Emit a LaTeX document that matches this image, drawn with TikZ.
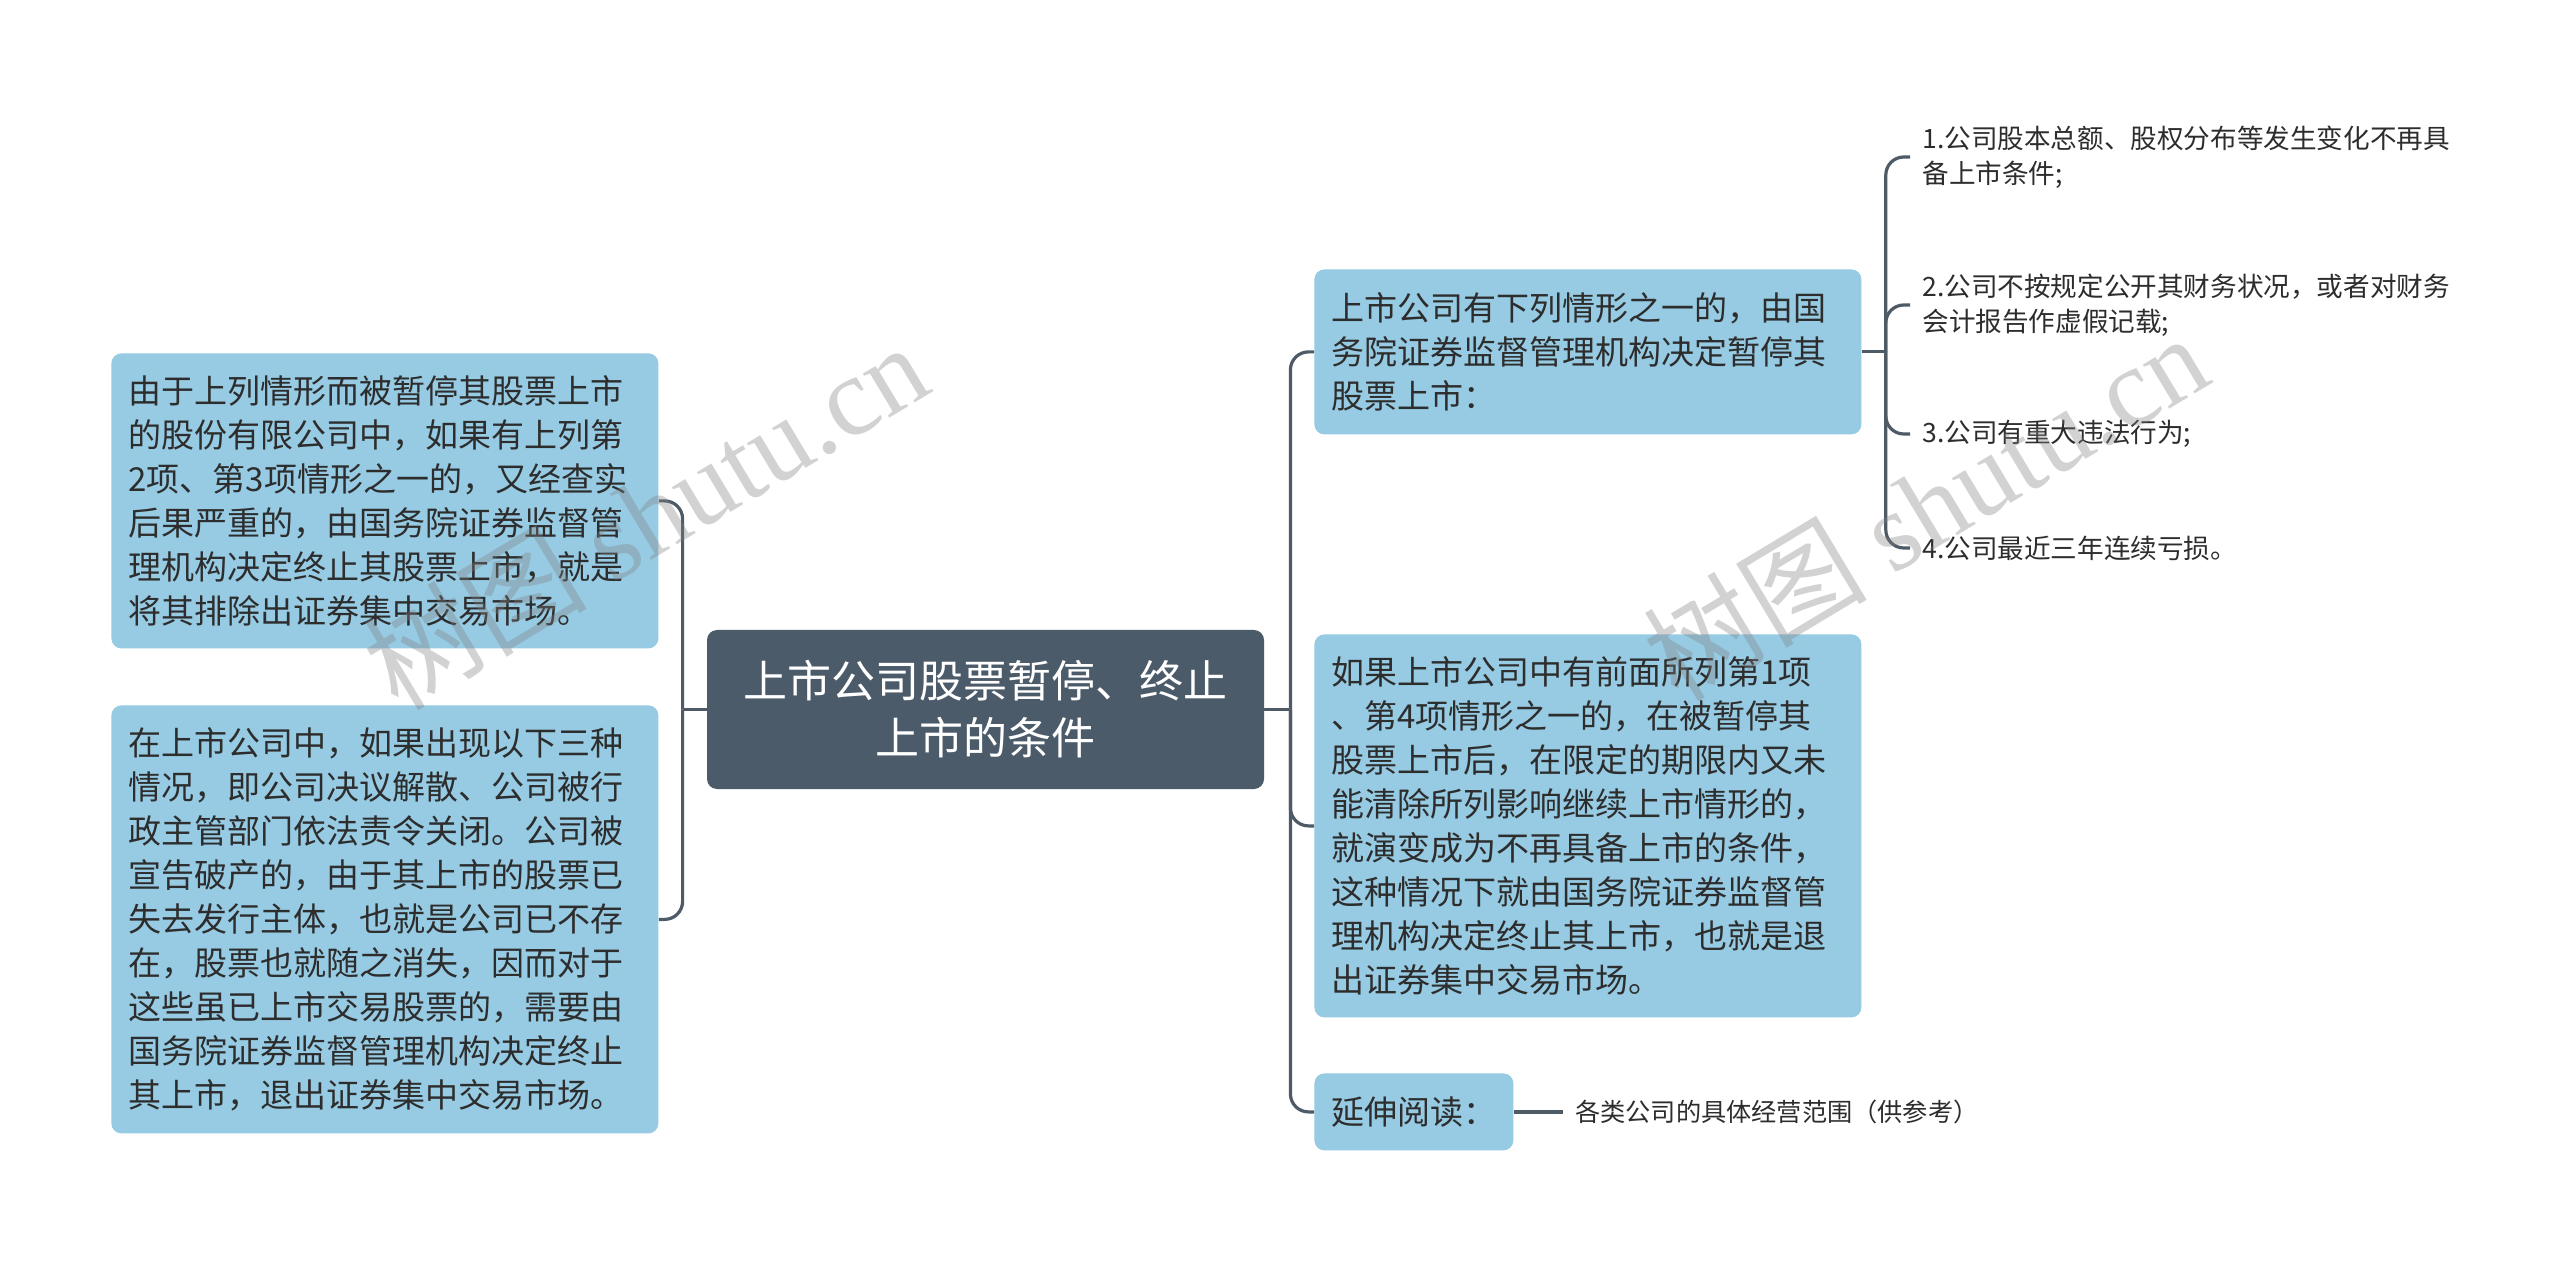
\documentclass[tikz,border=0pt]{standalone}
\usepackage{fontspec}
\setmainfont{Noto Sans CJK SC}
\newfontfamily\wmfont{Liberation Serif}
\usetikzlibrary{positioning}
\definecolor{rootc}{RGB}{76,91,106}
\definecolor{topicc}{RGB}{150,203,227}
\definecolor{linec}{RGB}{78,90,102}
\definecolor{textc}{RGB}{45,45,45}

\begin{document}
\begin{tikzpicture}[x=0.5pt,y=-0.5pt,
  link/.style={draw=linec,line width=1.6pt,rounded corners=9pt},
  root/.style={fill=rootc,rounded corners=5pt,text=white,align=center,minimum width=278.5pt,minimum height=79.5pt,font=\fontsize{22}{28.5}\selectfont},
  topic/.style={fill=topicc,rounded corners=5pt,text=textc,align=left,anchor=north west,text width=256.5pt,inner xsep=8.5pt,font=\fontsize{16.5}{22}\selectfont},
  leaf/.style={anchor=west,align=left,text=textc,inner xsep=6pt,font=\fontsize{13.3}{17.5}\selectfont},
  wmark/.style={text=gray,opacity=0.35,font=\fontsize{56}{56}\selectfont}]
\fill[white] (0,0) rectangle (2560,1261);
\useasboundingbox (0,0) rectangle (2560,1261);

\node[root] (root) at (985.5,709.5) {上市公司股票暂停、终止\\上市的条件};

\node[topic,minimum height=147.5pt] (lb1) at (111,353) {由于上列情形而被暂停其股票上市\\的股份有限公司中，如果有上列第\\2项、第3项情形之一的，又经查实\\后果严重的，由国务院证券监督管\\理机构决定终止其股票上市，就是\\将其排除出证券集中交易市场。};
\node[topic,minimum height=214pt] (lb2) at (111,705) {在上市公司中，如果出现以下三种\\情况，即公司决议解散、公司被行\\政主管部门依法责令关闭。公司被\\宣告破产的，由于其上市的股票已\\失去发行主体，也就是公司已不存\\在，股票也就随之消失，因而对于\\这些虽已上市交易股票的，需要由\\国务院证券监督管理机构决定终止\\其上市，退出证券集中交易市场。};

\node[topic,minimum height=82.5pt] (rb1) at (1314,269) {上市公司有下列情形之一的，由国\\务院证券监督管理机构决定暂停其\\股票上市：};
\node[topic,minimum height=191.5pt] (rb2) at (1314,634) {如果上市公司中有前面所列第1项\\、第4项情形之一的，在被暂停其\\股票上市后，在限定的期限内又未\\能清除所列影响继续上市情形的，\\就演变成为不再具备上市的条件，\\这种情况下就由国务院证券监督管\\理机构决定终止其上市，也就是退\\出证券集中交易市场。};
\node[topic,minimum height=38.5pt,text width=82.5pt] (rb3) at (1314,1073) {延伸阅读：};

\node[leaf] (l1) at (1910,157) {1.公司股本总额、股权分布等发生变化不再具\\备上市条件;};
\node[leaf] (l2) at (1910,305) {2.公司不按规定公开其财务状况，或者对财务\\会计报告作虚假记载;};
\node[leaf] (l3) at (1910,434) {3.公司有重大违法行为;};
\node[leaf] (l4) at (1910,548) {4.公司最近三年连续亏损。};
\node[leaf,right=24.5pt of rb3,font=\fontsize{12.6}{17.5}\selectfont] (l5) {各类公司的具体经营范围（供参考）};

\coordinate (lj) at ([xshift=-12pt]root.west);
\coordinate (rj) at ([xshift=13pt]root.east);
\coordinate (tj) at ([xshift=12pt]rb1.east);

\draw[link] (root.west) -- (lj);
\draw[link] (lj) |- (lb1.east);
\draw[link] (lj) |- (lb2.east);
\draw[link] (root.east) -- (rj);
\draw[link] (rj) |- (rb1.west);
\draw[link] (rj) |- (rb2.west);
\draw[link] (rj) |- (rb3.west);
\draw[link] (rb1.east) -- (tj);
\draw[link] (tj) |- (l1.west);
\draw[link] (tj) |- (l2.west);
\draw[link] (tj) |- (l3.west);
\draw[link] (tj) |- (l4.west);
\draw[link] (rb3.east) -- (l5.west);

\node[wmark,rotate=31] (wm1) at (645,515) {树图 {\wmfont shutu.cn}};
\node[wmark,rotate=31] (wm2) at (1925,506) {树图 {\wmfont shutu.cn}};
\end{tikzpicture}
\end{document}
